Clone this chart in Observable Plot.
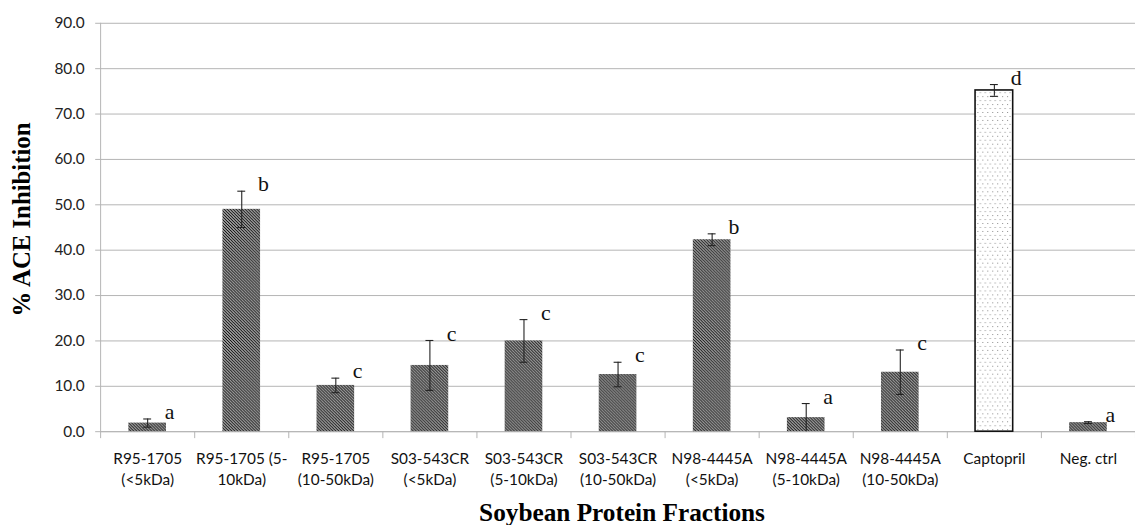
<!DOCTYPE html>
<html>
<head>
<meta charset="utf-8">
<script src="https://cdn.jsdelivr.net/npm/d3@7"></script>
<script src="https://cdn.jsdelivr.net/npm/@observablehq/plot@0.6"></script>
<style>
  html, body { margin: 0; padding: 0; background: #fff; overflow: hidden; }
  #chart { width: 1135px; height: 530px; overflow: hidden; }
</style>
</head>
<body>
<div id="chart"></div>
<script>
// ---- Data ----
const categories = [
  "R95-1705 (<5kDa)", "R95-1705 (5-10kDa)", "R95-1705 (10-50kDa)",
  "S03-543CR (<5kDa)", "S03-543CR (5-10kDa)", "S03-543CR (10-50kDa)",
  "N98-4445A (<5kDa)", "N98-4445A (5-10kDa)", "N98-4445A (10-50kDa)",
  "Captopril", "Neg. ctrl"
];
const tickLabels = [
  "R95-1705\n(<5kDa)", "R95-1705 (5-\n10kDa)", "R95-1705\n(10-50kDa)",
  "S03-543CR\n(<5kDa)", "S03-543CR\n(5-10kDa)", "S03-543CR\n(10-50kDa)",
  "N98-4445A\n(<5kDa)", "N98-4445A\n(5-10kDa)", "N98-4445A\n(10-50kDa)",
  "Captopril", "Neg. ctrl"
];
const inhibition = [1.9, 49.0, 10.2, 14.6, 20.0, 12.6, 42.3, 3.1, 13.1, 75.2, 2.0];
const errorSD    = [0.9, 4.0, 1.6, 5.5, 4.7, 2.7, 1.3, 3.1, 4.9, 1.3, 0.2];
const letters    = ["a", "b", "c", "c", "c", "c", "b", "a", "c", "d", "a"];
const yTicks     = [0, 10, 20, 30, 40, 50, 60, 70, 80, 90];
const xTitle = "Soybean Protein Fractions";
const yTitle = "% ACE Inhibition";

const data = categories.map((c, i) => ({
  c, i,
  label: tickLabels[i],
  v: inhibition[i],
  e: errorSD[i],
  letter: letters[i],
  control: c === "Captopril"
}));

const grid = "#b4b4b4";
const center = d => d.i + 0.5;
const capHalf = 0.042;

const plot = Plot.plot({
  width: 1145,
  height: 530,
  marginLeft: 101,
  marginRight: 0,
  marginTop: 23,
  marginBottom: 95,
  style: { fontFamily: "Lato, sans-serif", fontSize: "15.5px", background: "#fff", color: "#222" },
  x: { type: "linear", domain: [0, categories.length], axis: null },
  y: { domain: [0, 90], axis: null },
  marks: [
    Plot.gridY(yTicks, { stroke: grid, strokeOpacity: 1, strokeWidth: 1 }),
    Plot.axisY(yTicks, {
      tickSize: 5, tickPadding: 11, stroke: grid, fill: "#222",
      tickFormat: d => d.toFixed(1), fontSize: 15.5, label: null
    }),
    Plot.axisX(d3.range(categories.length + 1), {
      tickSize: 7, stroke: grid, tickFormat: () => "", label: null
    }),
    Plot.ruleX([0], { stroke: grid }),
    Plot.ruleY([0], { stroke: grid }),
    Plot.rectY(data.filter(d => !d.control), {
      x1: d => d.i + 0.3, x2: d => d.i + 0.7, y: "v",
      fill: "url(#hatch)"
    }),
    Plot.rectY(data.filter(d => d.control), {
      x1: d => d.i + 0.3, x2: d => d.i + 0.7, y: "v",
      fill: "url(#dots)", stroke: "#111", strokeWidth: 1.6
    }),
    Plot.ruleX(data, {
      x: center, y1: d => Math.max(0, d.v - d.e), y2: d => d.v + d.e,
      stroke: "#222", strokeWidth: 1.1
    }),
    Plot.ruleY(data, {
      y: d => d.v + d.e, x1: d => center(d) - capHalf, x2: d => center(d) + capHalf,
      stroke: "#222", strokeWidth: 1.1
    }),
    Plot.ruleY(data.filter(d => d.v - d.e > 0), {
      y: d => d.v - d.e, x1: d => center(d) - capHalf, x2: d => center(d) + capHalf,
      stroke: "#222", strokeWidth: 1.1
    }),
    Plot.text(data, {
      x: center, y: d => d.v + d.e, text: "letter",
      dx: 22, dy: -7, fontFamily: "Liberation Serif, serif", fontSize: 22, fill: "#111"
    }),
    Plot.text(data, {
      x: center, y: 0, text: "label", lineAnchor: "top", dy: 17, lineHeight: 1.4,
      fontFamily: "Lato, sans-serif", fontSize: 15.5, fill: "#111"
    }),
    Plot.text([yTitle], {
      frameAnchor: "left", textAnchor: "middle", rotate: -90, dx: -79, dy: -8,
      fontFamily: "Liberation Serif, serif", fontWeight: "bold", fontSize: 25, fill: "#000"
    }),
    Plot.text([xTitle], {
      frameAnchor: "bottom", lineAnchor: "middle", dx: 4, dy: 82,
      fontFamily: "Liberation Serif, serif", fontWeight: "bold", fontSize: 25.5, fill: "#000"
    })
  ]
});

d3.select(plot).insert("defs", ":first-child").html(`
  <pattern id="hatch" width="3" height="3" patternUnits="userSpaceOnUse">
    <rect width="3" height="3" fill="#fff"/>
    <path d="M0,0 L3,3 M-1,2 L1,4 M2,-1 L4,1" stroke="#111" stroke-width="1.3"/>
  </pattern>
  <pattern id="dots" width="5" height="8" patternUnits="userSpaceOnUse">
    <rect width="5" height="8" fill="#fff"/>
    <rect x="1" y="1" width="1" height="1" fill="#8a8a8a"/>
    <rect x="3.5" y="5" width="1" height="1" fill="#8a8a8a"/>
  </pattern>
`);

document.getElementById("chart").appendChild(plot);
</script>
</body>
</html>
